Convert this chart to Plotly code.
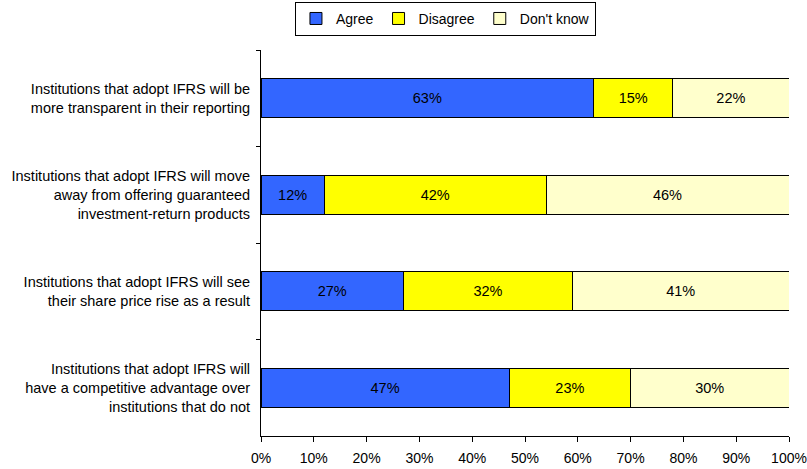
import plotly.graph_objects as go

statements = [
    "Institutions that adopt IFRS will be<br>more transparent in their reporting",
    "Institutions that adopt IFRS will move<br>away from offering guaranteed<br>investment-return products",
    "Institutions that adopt IFRS will see<br>their share price rise as a result",
    "Institutions that adopt IFRS will<br>have a competitive advantage over<br>institutions that do not",
]
agree = [63, 12, 27, 47]
disagree = [15, 42, 32, 23]
dont_know = [22, 46, 41, 30]

series = [
    ("Agree", agree, "#3366FF"),
    ("Disagree", disagree, "#FFFF00"),
    ("Don't know", dont_know, "#FFFFCC"),
]

FONT = "Liberation Sans, Arial, sans-serif"

fig = go.Figure()
for name, vals, color in series:
    fig.add_trace(go.Bar(
        y=statements, x=vals, name=name, orientation="h",
        marker=dict(color=color, line=dict(color="#000000", width=1)),
        text=[f"{v}%" for v in vals], textposition="inside",
        insidetextanchor="middle",
        textfont=dict(color="#000000", size=14.5, family=FONT),
        hoverinfo="skip",
    ))

fig.update_layout(
    barmode="stack",
    bargap=0.6,
    width=807, height=469,
    margin=dict(l=261, r=18, t=50, b=33, autoexpand=False),
    paper_bgcolor="white", plot_bgcolor="white",
    font=dict(family=FONT, size=14, color="#000000"),
    uniformtext=dict(mode="show", minsize=13),
    legend=dict(
        orientation="h", x=0.552, xanchor="center", xref="container",
        y=0.996, yanchor="top", yref="container",
        bordercolor="#000000", borderwidth=1,
        font=dict(size=14, family=FONT), traceorder="normal",
        itemwidth=30,
    ),
    xaxis=dict(
        range=[0, 100], tickvals=list(range(0, 101, 10)),
        ticktext=[f"{v}%" for v in range(0, 101, 10)],
        showgrid=False, zeroline=False, automargin=False,
        showline=True, linecolor="#000000", linewidth=1,
        ticks="outside", ticklen=5, tickcolor="#000000",
        tickfont=dict(size=14), ticklabelstandoff=4,
    ),
    yaxis=dict(
        autorange="reversed", showgrid=False, zeroline=False, automargin=False,
        showline=True, linecolor="#000000", linewidth=1,
        ticks="outside", ticklen=4, tickcolor="#000000",
        tickson="boundaries", ticklabelstandoff=7,
        tickfont=dict(size=14.5),
    ),
)

fig.write_html("out.html")
